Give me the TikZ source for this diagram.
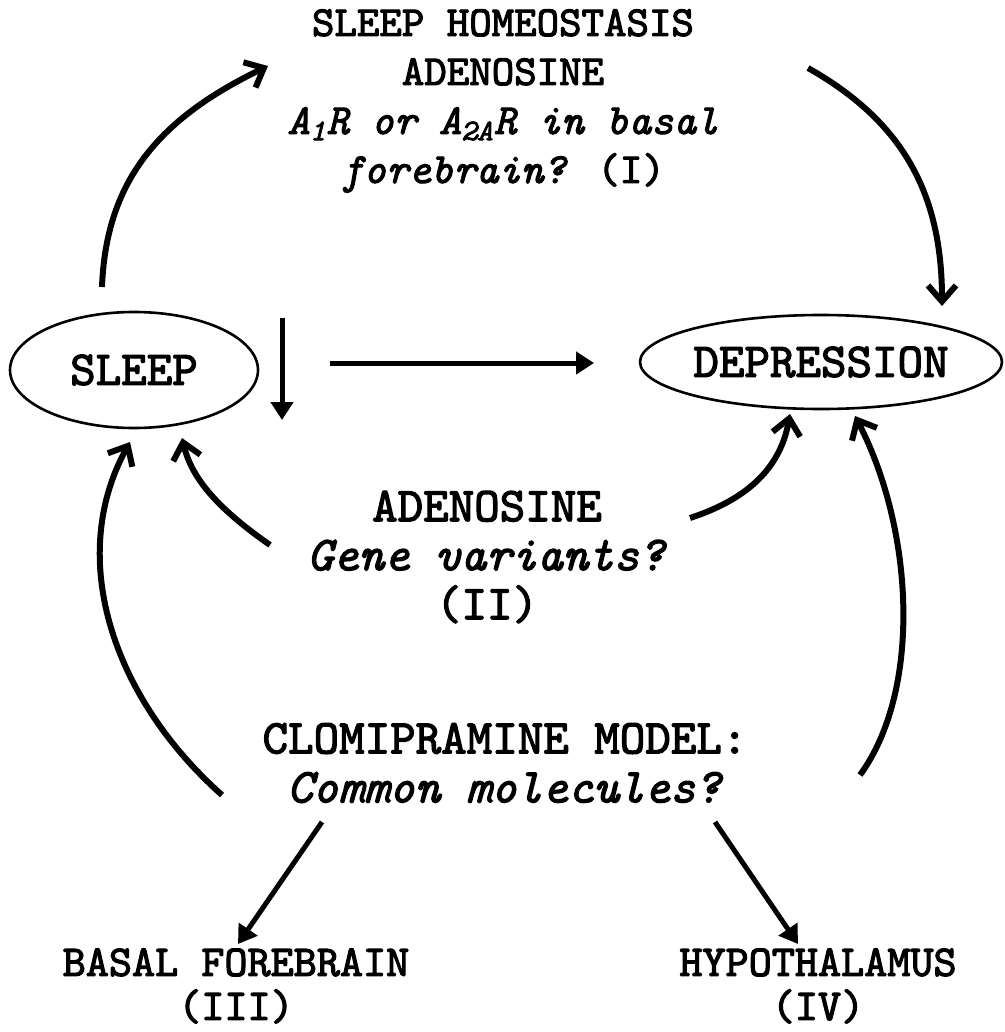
\documentclass[tikz,border=0pt]{standalone}
\usepackage{fontspec}
\newfontfamily\courfont{lmmono10-regular.otf}[FakeBold=2.5,
  ItalicFont=lmmono10-italic.otf, ItalicFeatures={FakeBold=2.5}]
\usetikzlibrary{shapes.geometric,arrows.meta}

\begin{document}
\begin{tikzpicture}[x=0.5pt,y=-0.5pt,
        every node/.style={align=center, font=\fontsize{24.3}{24.5}\selectfont\courfont},
        oval/.style={draw, ellipse, line width=1.3pt, inner sep=0pt},
        curv/.style={line width=3pt, -{Straight Barb[length=8pt,width=14pt,line width=3pt]}},
        strt/.style={line width=2.5pt, -{Triangle[length=9pt,width=11pt]}},
        region/.style={font=\fontsize{22}{22}\selectfont\courfont}
      ]
        \useasboundingbox (0,0) rectangle (1005,1032);
        \node[oval, minimum width=124pt, minimum height=58pt] (sleep) at (134,370) {SLEEP};
        \node[oval, minimum width=181pt, minimum height=47pt] (depression) at (821,362) {DEPRESSION};
        \node[font=\fontsize{21.4}{24.5}\selectfont\courfont] (homeo) at (503,101)
          {SLEEP HOMEOSTASIS\\ADENOSINE\\\textit{A\textsubscript{1}R or A\textsubscript{2A}R in basal}\\\textit{forebrain?} (I)};
        \node (genes) at (487,557) {ADENOSINE\\\textit{Gene variants?}\\(II)};
        \node (clomi) at (505,763) {CLOMIPRAMINE MODEL:\\\textit{Common molecules?}};
        \node[region] (basal) at (236,986) {BASAL FOREBRAIN\\(III)};
        \node[region] (hypo) at (818,986) {HYPOTHALAMUS\\(IV)};

        % free ends of the connectors
        \coordinate (s1) at (102,287);   \coordinate (t1) at (268,66);
        \coordinate (s2) at (808,68);    \coordinate (t2) at (942,306);
        \coordinate (s3) at (282,318);   \coordinate (t3) at (282,420);
        \coordinate (s4) at (330,363);   \coordinate (t4) at (594,363);
        \coordinate (s5) at (270,545);   \coordinate (t5) at (182,438);
        \coordinate (s6) at (690,518);   \coordinate (t6) at (790,414);
        \coordinate (s7) at (222,795);   \coordinate (t7) at (130,442);
        \coordinate (s8) at (860,775);   \coordinate (t8) at (855,416);
        \coordinate (s9) at (322,822);   \coordinate (t9) at (238,944);
        \coordinate (s10) at (715,822);  \coordinate (t10) at (798,944);

        \draw[curv] (s1) .. controls (106,180) and (160,118) .. (t1);
        \draw[curv] (s2) .. controls (900,120) and (942,190) .. (t2);
        \draw[strt] (s3) -- (t3);
        \draw[strt] (s4) -- (t4);
        \draw[curv] (s5) .. controls (220,510) and (192,480) .. (t5);
        \draw[curv] (s6) .. controls (745,500) and (780,470) .. (t6);
        \draw[curv] (s7) .. controls (115,700) and (65,560) .. (t7);
        \draw[curv] (s8) .. controls (922,690) and (914,530) .. (t8);
        \draw[strt] (s9) -- (t9);
        \draw[strt] (s10) -- (t10);
      \end{tikzpicture}
\end{document}
